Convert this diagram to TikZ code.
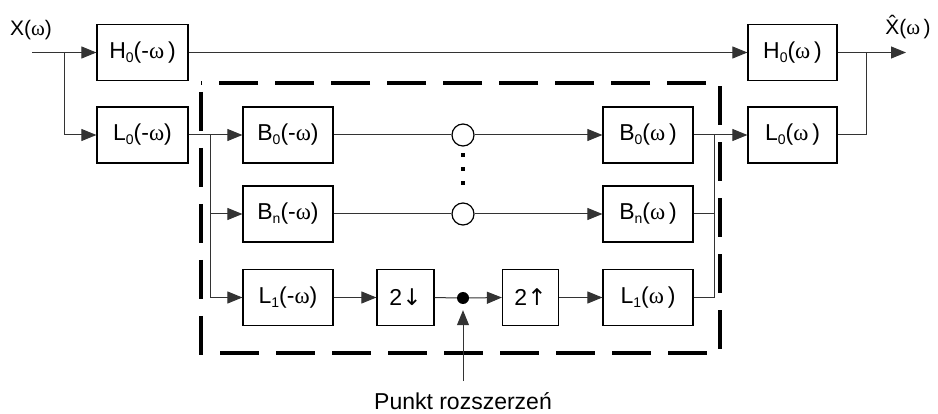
\documentclass[tikz,border=0pt]{standalone}
\usepackage{fontspec}
\setmainfont{Liberation Sans}
\newfontfamily\omfont{Liberation Serif}
\newfontfamily\arrfont{DejaVu Sans}
\usetikzlibrary{arrows.meta}
\newcommand\omg{{\omfont ω}}
\newcommand\subx[1]{\raisebox{-0.3ex}{\fontsize{14}{14}\selectfont #1}}
\tikzset{
  blk/.style={draw=black, line width=1.2pt, minimum width=90pt, minimum height=56pt, inner sep=0pt,
    font=\fontsize{23}{26}\selectfont},
  sblk/.style={blk, minimum width=56pt},
  conn/.style={draw=black!80, line width=1pt},
  arr/.style={conn, -{Triangle[length=15pt,width=12pt]}},
  ring/.style={circle, draw=black, line width=1.2pt, minimum size=22pt, inner sep=0pt},
  lbl/.style={font=\fontsize{21}{24}\selectfont, inner sep=0pt},
}
\begin{document}
\begin{tikzpicture}[x=1pt,y=-1pt]
\useasboundingbox (0,0) rectangle (938,414);
% dashed frame
\draw[line width=3.5pt, dash pattern=on 39pt off 17pt, dash phase=47pt] (201,83) rectangle (720,353);
% blocks
\node[blk, minimum width=91pt] (H0m) at (142.5,52.5) {H\subx{0}(-\omg\,)};
\node[blk, minimum width=91pt] (L0m) at (142.5,135) {L\subx{0}(-\omg)};
\node[blk] (B0m) at (288,135) {B\subx{0}(-\omg)};
\node[blk] (Bnm) at (288,214) {B\subx{n}(-\omg)};
\node[blk] (L1m) at (288,297.5) {L\subx{1}(-\omg)};
\node[sblk, minimum width=57pt] (d2) at (405.5,297.5) {2{\arrfont ↓}};
\node[sblk] (u2) at (530.5,297.5) {2{\arrfont ↑}};
\node[blk] (L1p) at (648,297.5) {L\subx{1}(\omg\,)};
\node[blk] (Bnp) at (648,214) {B\subx{n}(\omg\,)};
\node[blk] (B0p) at (648,135) {B\subx{0}(\omg\,)};
\node[blk, minimum width=89pt] (H0p) at (792.5,52.5) {H\subx{0}(\omg\,)};
\node[blk, minimum width=89pt] (L0p) at (792.5,135) {L\subx{0}(\omg\,)};
\node[ring] (c1) at (463,135) {};
\node[ring] (c2) at (463,214) {};
\node[circle, fill=black, minimum size=12pt, inner sep=0pt] (dotn) at (463,298) {};
% vertical dots
\foreach \yy in {155,169,183} \fill (461,\yy-2) rectangle (465,\yy+2);
% labels
\node[lbl] (xin) at (31,30) {X(\omg)};
\node[lbl] (xout) at (908,27) {\^{X}(\omg\,)};
\node[font=\fontsize{23}{26}\selectfont, inner sep=0pt] (punkt) at (463,401) {Punkt rozszerzeń};
% coordinates
\coordinate (in) at (32,52.5);
\coordinate (split) at (64,52.5);
\coordinate (busL) at (210,135);
\coordinate (busR) at (714,135);
\coordinate (outJ) at (866,52.5);
\coordinate (out) at (906,52.5);
% connectors
\draw[arr] (in) -- (H0m.west);
\draw[arr] (split) |- (L0m.west);
\draw[arr] (H0m.east) -- (H0p.west);
\draw[arr] (L0m.east) -- (B0m.west);
\draw[arr] (busL) |- (Bnm.west);
\draw[arr] (busL) |- (L1m.west);
\draw[conn] (B0m.east) -- (c1.west);
\draw[arr] (c1.east) -- (B0p.west);
\draw[conn] (Bnm.east) -- (c2.west);
\draw[arr] (c2.east) -- (Bnp.west);
\draw[arr] (L1m.east) -- (d2.west);
\draw[conn] (d2.east) -- (dotn.west);
\draw[arr] (dotn.east) -- (u2.west);
\draw[arr] (u2.east) -- (L1p.west);
\draw[arr] (B0p.east) -- (L0p.west);
\draw[conn] (Bnp.east) -| (busR);
\draw[conn] (L1p.east) -| (busR);
\draw[conn] (L0p.east) -| (outJ);
\draw[arr] (H0p.east) -- (out);
\draw[arr, shorten >=6pt] ([yshift=11pt]punkt.north) -- (dotn.south);
\end{tikzpicture}
\end{document}
